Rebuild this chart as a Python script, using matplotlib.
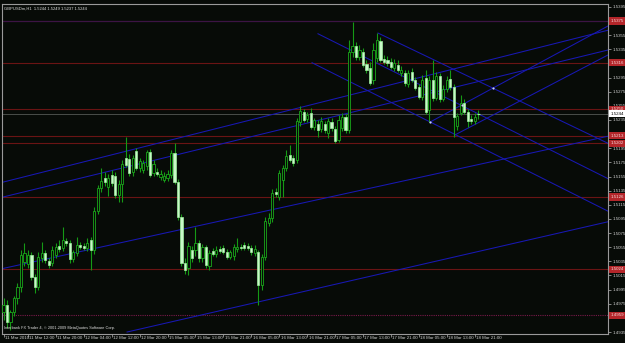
import matplotlib
matplotlib.use("Agg")
import matplotlib.pyplot as plt
import matplotlib.transforms as mtrans
import numpy as np

# ---- data (prices in points, 1/10000) ----
opens = [14963, 14973, 14949, 14963, 14983, 14999, 15034, 15031, 15044, 15013,
         14999, 15040, 15047, 15036, 15033, 15044, 15057, 15054, 15064, 15061,
         15038, 15047, 15058, 15057, 15054, 15065, 15051, 15106, 15139, 15153,
         15140, 15157, 15156, 15129, 15144, 15181, 15180, 15161, 15191, 15167,
         15164, 15170, 15190, 15160, 15161, 15154, 15150, 15153, 15157, 15188,
         15147, 15098, 15033, 15026, 15051, 15051, 15061, 15040, 15055, 15028,
         15050, 15045, 15052, 15054, 15048, 15041, 15043, 15052, 15055, 15058,
         15057, 15054, 15047, 15048, 15002, 15041, 15089, 15096, 15133, 15126,
         15150, 15167, 15185, 15181, 15178, 15232, 15246, 15236, 15245, 15225,
         15229, 15222, 15229, 15217, 15232, 15222, 15207, 15224, 15239, 15221,
         15331, 15340, 15324, 15331, 15314, 15309, 15292, 15323, 15347, 15321,
         15320, 15317, 15309, 15313, 15301, 15301, 15286, 15303, 15292, 15282,
         15268, 15294, 15249, 15292, 15266, 15297, 15265, 15279, 15293, 15282,
         15227, 15245, 15259, 15246, 15236, 15234, 15244]
highs = [14983, 14980, 14966, 14986, 15004, 15051, 15061, 15051, 15048, 15017,
         15048, 15062, 15051, 15040, 15057, 15061, 15065, 15084, 15068, 15065,
         15051, 15069, 15062, 15061, 15068, 15069, 15112, 15143, 15167, 15161,
         15159, 15164, 15161, 15150, 15178, 15211, 15187, 15185, 15195, 15181,
         15178, 15193, 15194, 15178, 15167, 15164, 15161, 15164, 15193, 15202,
         15151, 15102, 15040, 15062, 15057, 15084, 15065, 15060, 15058, 15051,
         15054, 15057, 15057, 15058, 15052, 15051, 15060, 15068, 15060, 15062,
         15061, 15058, 15058, 15051, 15045, 15098, 15103, 15137, 15139, 15164,
         15171, 15193, 15200, 15185, 15238, 15255, 15251, 15246, 15252, 15238,
         15235, 15239, 15234, 15238, 15238, 15227, 15242, 15245, 15243, 15348,
         15374, 15345, 15341, 15337, 15320, 15317, 15344, 15358, 15352, 15327,
         15326, 15323, 15321, 15320, 15311, 15306, 15306, 15309, 15296, 15286,
         15299, 15306, 15297, 15320, 15303, 15301, 15285, 15297, 15306, 15286,
         15245, 15270, 15265, 15251, 15242, 15245, 15249]
lows = [14952, 14941, 14938, 14958, 14975, 14992, 15028, 15026, 15009, 14990,
        14994, 15034, 15033, 15026, 15028, 15040, 15048, 15050, 15057, 15033,
        15034, 15043, 15052, 15051, 15050, 15023, 15045, 15102, 15133, 15142,
        15127, 15142, 15125, 15119, 15119, 15168, 15156, 15156, 15164, 15161,
        15160, 15164, 15154, 15156, 15156, 15150, 15147, 15149, 15153, 15144,
        15094, 15028, 15017, 15016, 15034, 15043, 15034, 15034, 15026, 15023,
        15043, 15041, 15047, 15045, 15038, 15038, 15037, 15048, 15051, 15051,
        15051, 15044, 15043, 14973, 14994, 15037, 15085, 15091, 15126, 15122,
        15126, 15163, 15176, 15170, 15174, 15227, 15232, 15232, 15222, 15221,
        15211, 15218, 15217, 15210, 15219, 15202, 15204, 15219, 15217, 15217,
        15324, 15320, 15320, 15310, 15301, 15285, 15286, 15317, 15317, 15314,
        15311, 15307, 15304, 15303, 15297, 15283, 15282, 15289, 15277, 15265,
        15263, 15243, 15232, 15262, 15263, 15260, 15262, 15275, 15277, 15211,
        15221, 15242, 15243, 15225, 15229, 15229, 15237]
closes = [14973, 14949, 14963, 14983, 14999, 15044, 15047, 15044, 15013, 14999,
          15041, 15047, 15037, 15030, 15051, 15055, 15052, 15065, 15061, 15038,
          15048, 15058, 15055, 15054, 15061, 15051, 15106, 15139, 15149, 15147,
          15153, 15146, 15129, 15144, 15173, 15171, 15160, 15181, 15167, 15177,
          15174, 15190, 15157, 15173, 15159, 15159, 15156, 15159, 15188, 15147,
          15098, 15033, 15023, 15057, 15040, 15061, 15040, 15055, 15030, 15047,
          15045, 15051, 15050, 15048, 15041, 15048, 15055, 15055, 15054, 15054,
          15054, 15048, 15052, 15002, 15041, 15092, 15096, 15132, 15130, 15160,
          15167, 15184, 15178, 15174, 15234, 15248, 15235, 15242, 15225, 15235,
          15221, 15234, 15221, 15234, 15224, 15205, 15235, 15239, 15221, 15331,
          15340, 15324, 15334, 15313, 15306, 15287, 15334, 15348, 15320, 15317,
          15316, 15310, 15316, 15306, 15306, 15287, 15301, 15292, 15280, 15268,
          15292, 15246, 15292, 15266, 15297, 15265, 15279, 15292, 15282, 15239,
          15241, 15259, 15246, 15234, 15234, 15239, 15244]

time_labels = ["11 Mar 2010", "11 Mar 12:00", "11 Mar 20:00", "12 Mar 04:00",
               "12 Mar 12:00", "12 Mar 20:00", "15 Mar 05:00", "15 Mar 13:00",
               "15 Mar 21:00", "16 Mar 05:00", "16 Mar 13:00", "16 Mar 21:00",
               "17 Mar 05:00", "17 Mar 13:00", "17 Mar 21:00", "18 Mar 05:00",
               "18 Mar 13:00", "18 Mar 21:00"]
time_label_bars = [0, 7, 15, 23, 31, 39, 47, 55, 63, 71, 79, 87, 95, 103, 111,
                   119, 127, 135]

# horizontal levels (price)
level_prices = [1.5375, 1.5316, 1.5250, 1.5213, 1.5202, 1.5126, 1.5024, 1.4959]
level_kinds = ["purple", "red", "red", "red", "red", "red", "red", "dotted"]

# trend lines: (bar1, price1, bar2, price2)
trend_lines = [
    (-1.0, 1.5146, 173.2, 1.5362),
    (-1.0, 1.5125, 173.2, 1.5334),
    (-1.0, 1.5024, 173.2, 1.5212),
    (35.4, 1.4935, 173.2, 1.5091),
    (90.1, 1.5357, 173.2, 1.5152),
    (107.3, 1.5358, 173.2, 1.5202),
    (88.4, 1.5316, 173.2, 1.5106),
    (129.4, 1.5214, 173.2, 1.5327),
    (122.2, 1.5232, 173.2, 1.5368),
]
anchor_bars = [122.2, 131.4, 140.3]
anchor_prices = [1.5232, 1.5256, 1.5280]

symbol_title = "GBPUSDm,H1  1.5244 1.5249 1.5237 1.5244"
copyright_text = "Interbank FX Trader 4, \u00a9 2001-2009 MetaQuotes Software Corp."
current_price = 1.5244

# ---- styling ----
NARROW = ["Liberation Sans Narrow", "Liberation Sans", "DejaVu Sans"]
BG = "#070b07"
W, H = 625, 343
fig = plt.figure(figsize=(W / 100, H / 100), dpi=100, facecolor=BG)
ax = fig.add_axes([2 / W, (H - 334) / H, (608 - 2) / W, (334 - 4) / H])
ax.set_facecolor(BG)

o = np.array(opens) / 10000
h = np.array(highs) / 10000
l = np.array(lows) / 10000
c = np.array(closes) / 10000
idx = np.arange(len(o))

ax.set_xlim(-0.43, 173.2)
ax.set_ylim(1.49322, 1.53991)

# horizontal levels
for p, k in zip(level_prices, level_kinds):
    if k == "red":
        ax.axhline(p, color="#6a1414", lw=0.8, zorder=1)
    elif k == "purple":
        ax.axhline(p, color="#3c1444", lw=0.9, zorder=1)
    else:
        ax.axhline(p, color="#7a1a4a", lw=0.8, ls=(0, (1, 1)), zorder=1)
ax.axhline(current_price, color="#4a4e4a", lw=0.7, zorder=1)

# trend lines
for b1, p1, b2, p2 in trend_lines:
    ax.plot([b1, b2], [p1, p2], color="#1818b4", lw=0.75, zorder=2)
ax.scatter(anchor_bars, anchor_prices, s=2.5, color="#c8d0ff", zorder=6, lw=0)

# candles
wick_col = "#159a15"
for i in idx:
    ax.vlines(i, l[i], h[i], color=wick_col, lw=0.8, zorder=3)
bull = c > o
bear = c < o
doji = c == o
ax.bar(idx[bull], (c - o)[bull], bottom=o[bull], width=0.62,
       facecolor=BG, edgecolor="#1aa81a", lw=0.6, zorder=4)
ax.bar(idx[bear], (o - c)[bear], bottom=c[bear], width=0.62,
       facecolor="#c8f8c8", edgecolor="#9ef09e", lw=0.5, zorder=4)
for i in idx[doji]:
    ax.hlines(o[i], i - 0.4, i + 0.4, color="#9ef09e", lw=0.8, zorder=4)

# spines
for s in ax.spines.values():
    s.set_color("#9a9a9a")
    s.set_linewidth(0.8)

# price axis on right
ax.yaxis.tick_right()
pt = np.round(np.arange(1.4935, 1.5396, 0.002), 4)
ax.set_yticks(pt)
ax.set_yticklabels([f"{v:.4f}" for v in pt], family=NARROW)
ax.tick_params(axis="y", colors="#9a9a9a", labelcolor="#d0d0d0", length=2.2,
               width=0.6, labelsize=3.2, pad=0.8)

# time axis
ax.set_xticks(time_label_bars)
ax.set_xticklabels([])
ax.tick_params(axis="x", colors="#9a9a9a", length=2.5, width=0.6, direction="out")
tx = mtrans.blended_transform_factory(ax.transData, ax.transAxes)
for b, t in zip(time_label_bars, time_labels):
    ax.text(b + 0.4, -0.006, t, transform=tx, ha="left", va="top",
            fontsize=3.2, color="#d0d0d0", clip_on=False, family=NARROW)

# level labels on the price axis
ty = mtrans.blended_transform_factory(ax.transAxes, ax.transData)
for p in level_prices:
    ax.text(1.004, p, f"{p:.4f}", transform=ty, ha="left", va="center",
            fontsize=3.2, color="#f4dcdc", clip_on=False, zorder=10,
            family=NARROW,
            bbox=dict(boxstyle="square,pad=0.35", fc="#b4262a", ec="none"))
ax.text(1.004, current_price, f"{current_price:.4f}", transform=ty, ha="left",
        va="center", fontsize=3.2, color="#000000", clip_on=False, zorder=11,
        family=NARROW,
        bbox=dict(boxstyle="square,pad=0.35", fc="#ffffff", ec="none"))

# texts
ax.text(0.003, 0.993, symbol_title, transform=ax.transAxes, ha="left", va="top",
        fontsize=3.0, color="#e0e0e0", family=NARROW)
ax.text(0.003, 0.012, copyright_text, transform=ax.transAxes, ha="left",
        va="bottom", fontsize=2.8, color="#e0e0e0", family=NARROW)

fig.savefig("out.png", dpi=100, facecolor=BG)
